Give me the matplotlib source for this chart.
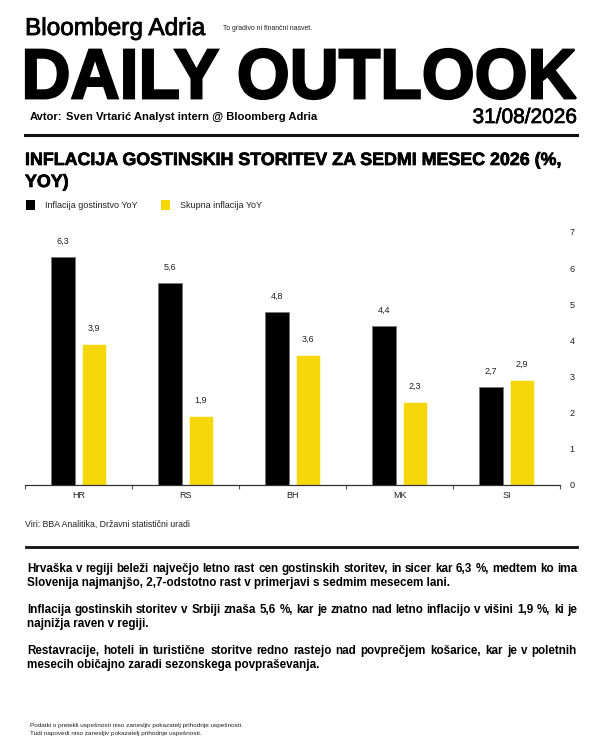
import numpy as np
import matplotlib
matplotlib.use("Agg")
import matplotlib.pyplot as plt
from matplotlib.patches import Rectangle, PathPatch
from matplotlib.textpath import TextPath
from matplotlib.font_manager import FontProperties
import matplotlib.transforms as mtransforms
import matplotlib.patheffects as pe

# data
countries = ["HR", "RS", "BH", "MK", "SI"]
gostinstvo = [6.3, 5.6, 4.8, 4.4, 2.7]
skupna = [3.9, 1.9, 3.6, 2.3, 2.9]
series_names = ["Inflacija gostinstvo YoY", "Skupna inflacija YoY"]
yticks = [0, 1, 2, 3, 4, 5, 6, 7]

paragraphs = [
    "Hrvaška v regiji beleži največjo letno rast cen gostinskih storitev, in sicer kar 6,3 %, medtem ko ima\n"
    "Slovenija najmanjšo, 2,7-odstotno rast v primerjavi s sedmim mesecem lani.",
    "Inflacija gostinskih storitev v Srbiji znaša 5,6 %, kar je znatno nad letno inflacijo v višini 1,9 %, ki je\n"
    "najnižja raven v regiji.",
    "Restavracije, hoteli in turistične storitve redno rastejo nad povprečjem košarice, kar je v poletnih\n"
    "mesecih običajno zaradi sezonskega povpraševanja.",
]

YELLOW = "#F6D808"
FONT = "Liberation Sans"
plt.rcParams["font.family"] = [FONT, "DejaVu Sans"]

W, H = 600, 750
fig = plt.figure(figsize=(6, 7.5), dpi=100)
renderer = fig.canvas.get_renderer()


def fx(x):
    return x / W


def fy(y):
    return 1 - y / H


def txt(x, y, s, size, weight="normal", **kw):
    return fig.text(fx(x), fy(y), s, fontsize=size, fontweight=weight, **kw)


def fit_text(x, y, s, width, weight="normal", **kw):
    t = txt(x, y, s, 10, weight, **kw)
    w = t.get_window_extent(renderer).width
    t.set_fontsize(10 * width / w)
    return t


def text_w(s, size, weight):
    prop = FontProperties(family=FONT, weight=weight, size=size)
    w, _, _ = renderer.get_text_width_height_descent(s, prop, ismath=False)
    return w


def thicken(t, lw):
    t.set_path_effects([pe.withStroke(linewidth=lw, foreground=t.get_color())])


# header
thicken(fit_text(25, 35, "Bloomberg Adria", 181, va="baseline"), 0.6)
fit_text(223, 30, "To gradivo ni finančni nasvet.", 89, va="baseline", color="#222222")

# big title drawn as a path stretched to its box
tp = TextPath((0, 0), "DAILY OUTLOOK", size=100,
              prop=FontProperties(family=FONT, weight="bold"))
bb = tp.get_extents()
tr = (mtransforms.Affine2D().translate(-bb.x0, -bb.y0)
      .scale(550 / bb.width, 50 / bb.height)
      .translate(26, H - 99)
      .scale(1 / W, 1 / H)) + fig.transFigure
fig.add_artist(PathPatch(tp, facecolor="black", edgecolor="black", lw=1.6,
                         transform=tr))

txt(30, 120, "Avtor:", 8, "bold", va="baseline")
fit_text(66, 120, "Sven Vrtarić Analyst intern @ Bloomberg Adria", 252, "bold", va="baseline")
thicken(fit_text(577, 123, "31/08/2026", 105, va="baseline", ha="right"), 0.5)

fig.add_artist(plt.Line2D([fx(25), fx(577)], [fy(135), fy(135)], color="#111111", lw=2.2))

# chart title
t1 = fit_text(25, 165, "INFLACIJA GOSTINSKIH STORITEV ZA SEDMI MESEC 2026 (%,", 534, "bold", va="baseline")
t2 = txt(25, 187, "YOY)", t1.get_fontsize(), "bold", va="baseline")
thicken(t1, 0.5)
thicken(t2, 0.5)

# legend
for lx, tx_, col, name in [(26, 45, "black", series_names[0]), (161, 180, YELLOW, series_names[1])]:
    fig.add_artist(Rectangle((fx(lx), fy(210)), 9 / W, 10 / H, facecolor=col,
                             edgecolor="none", transform=fig.transFigure))
    txt(tx_, 205, name, 6.5, va="center", color="#222222")

# chart
ax = fig.add_axes([25 / W, 1 - 485 / H, 535 / W, 253 / H])
x = np.arange(len(countries))
bw = 0.224
off = 0.145
b1 = ax.bar(x - off, gostinstvo, bw, color="black", edgecolor="#777777", lw=0.6)
b2 = ax.bar(x + off, skupna, bw, color=YELLOW, edgecolor="white", lw=0.4)
for bars, vals in [(b1, gostinstvo), (b2, skupna)]:
    ax.bar_label(bars, labels=[f"{v:.1f}".replace(".", ",") for v in vals],
                 padding=8, fontsize=6.5, color="#222222")

ax.set_xlim(-0.5, len(countries) - 0.5)
ax.set_ylim(0, 7)
ax.set_xticks(x)
ax.set_xticklabels(countries, fontsize=6.5, color="#222222")
ax.set_xticks(np.arange(-0.5, len(countries), 1.0), minor=True)
ax.tick_params(axis="x", which="major", length=0, pad=4)
ax.tick_params(axis="x", which="minor", length=3, width=0.8, color="#555555", direction="out")
ax.yaxis.tick_right()
ax.set_yticks(yticks)
ax.tick_params(axis="y", length=0, pad=7, labelsize=6.5, labelcolor="#222222")
for sp in ["top", "left", "right"]:
    ax.spines[sp].set_visible(False)
ax.spines["bottom"].set_color("#333333")
ax.spines["bottom"].set_linewidth(0.9)

# source and separator
txt(25, 524, "Viri: BBA Analitika, Državni statistični uradi", 6.3, va="center", color="#222222")
fig.add_artist(plt.Line2D([fx(26), fx(577)], [fy(547), fy(547)], color="#111111", lw=2.0))

# justified paragraphs
para_y = [569, 610, 651]
line_h = 14
lines_all = [p.split("\n") for p in paragraphs]
widest = max(text_w(l, 10, "bold") for ls in lines_all for l in ls)
fs = 10 * 549 / widest
x0, x1 = 27, 577
for py, ls in zip(para_y, lines_all):
    for i, line in enumerate(ls):
        y = py + i * line_h
        if i == len(ls) - 1:
            txt(x0, y, line, fs, "bold", va="center")
            continue
        words = line.split(" ")
        ws = [text_w(w_, fs, "bold") for w_ in words]
        gap = (x1 - x0 - sum(ws)) / (len(words) - 1)
        xx = x0
        for w_, ww in zip(words, ws):
            txt(xx, y, w_, fs, "bold", va="center")
            xx += ww + gap

# footnotes
txt(30, 725, "Podatki o pretekli uspešnosti niso zanesljiv pokazatelj prihodnje uspešnosti.", 4.6,
    va="center", color="#222222")
txt(30, 734, "Tudi napovedi niso zanesljiv pokazatelj prihodnje uspešnosti.", 4.6,
    va="center", color="#222222")

fig.savefig("out.png", dpi=100)
